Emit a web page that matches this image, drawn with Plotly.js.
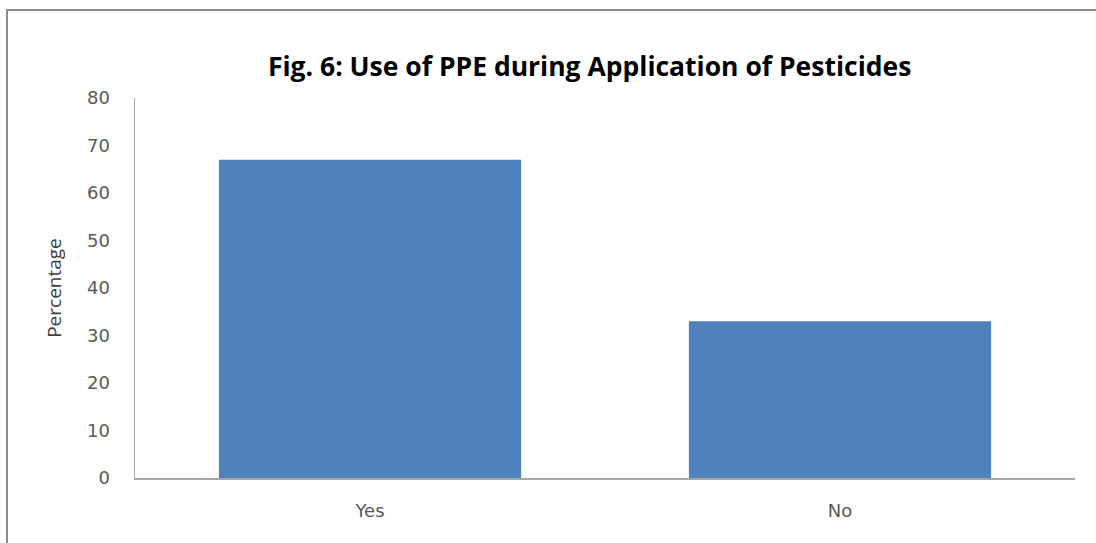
<!DOCTYPE html>
<html>
<head>
<meta charset="utf-8">
<script src="https://cdn.plot.ly/plotly-3.0.1.min.js"></script>
<style>
  html, body { margin: 0; padding: 0; background: #ffffff; }
  #wrap { position: relative; width: 1096px; height: 543px; overflow: hidden; }
  #frame { position: absolute; left: 6px; top: 9px; right: -4px; bottom: -4px;
           border-top: 2px solid #8c8c8c; border-left: 2px solid #8c8c8c; }
  #chart { position: absolute; left: 0; top: 0; width: 1096px; height: 543px; }
</style>
</head>
<body>
<div id="wrap">
  <div id="chart"></div>
  <div id="frame"></div>
</div>
<script>
// Use of personal protective equipment (percent of respondents)
const categories = ['Yes', 'No'];
const percentages = [67, 33];
const yTicks = [0, 10, 20, 30, 40, 50, 60, 70, 80];

const labelFont = { family: 'DejaVu Sans, Verdana, sans-serif', size: 18, color: '#595959' };

const trace = {
  type: 'bar',
  x: categories,
  y: percentages,
  marker: { color: '#4f81bd', line: { width: 0 } },
  hoverinfo: 'x+y'
};

const layout = {
  width: 1096,
  height: 543,
  paper_bgcolor: 'rgba(0,0,0,0)',
  plot_bgcolor: '#ffffff',
  margin: { l: 135, r: 21, t: 98, b: 65 },
  bargap: 0.357,
  showlegend: false,
  title: {
    text: '<b>Fig. 6: Use of PPE during Application of Pesticides</b>',
    font: { family: 'Open Sans, sans-serif', size: 26.5, color: '#000000' },
    x: 0.538, xanchor: 'center', xref: 'container',
    y: 0.877, yanchor: 'middle', yref: 'container'
  },
  xaxis: {
    type: 'category',
    showline: true, linecolor: '#a6a6a6', linewidth: 1.5,
    showgrid: false, zeroline: false,
    ticks: '', ticklabelstandoff: 16,
    tickfont: labelFont
  },
  yaxis: {
    range: [0, 80],
    tickvals: yTicks,
    ticktext: yTicks.map(String),
    showline: true, linecolor: '#a6a6a6', linewidth: 1.5,
    showgrid: false, zeroline: false,
    ticks: '', ticklabelstandoff: 20,
    tickfont: labelFont,
    title: {
      text: 'Percentage',
      font: { family: 'Open Sans, sans-serif', size: 19, color: '#404040' },
      standoff: 20
    }
  }
};

Plotly.newPlot('chart', [trace], layout, { displayModeBar: false, staticPlot: true });
</script>
</body>
</html>
